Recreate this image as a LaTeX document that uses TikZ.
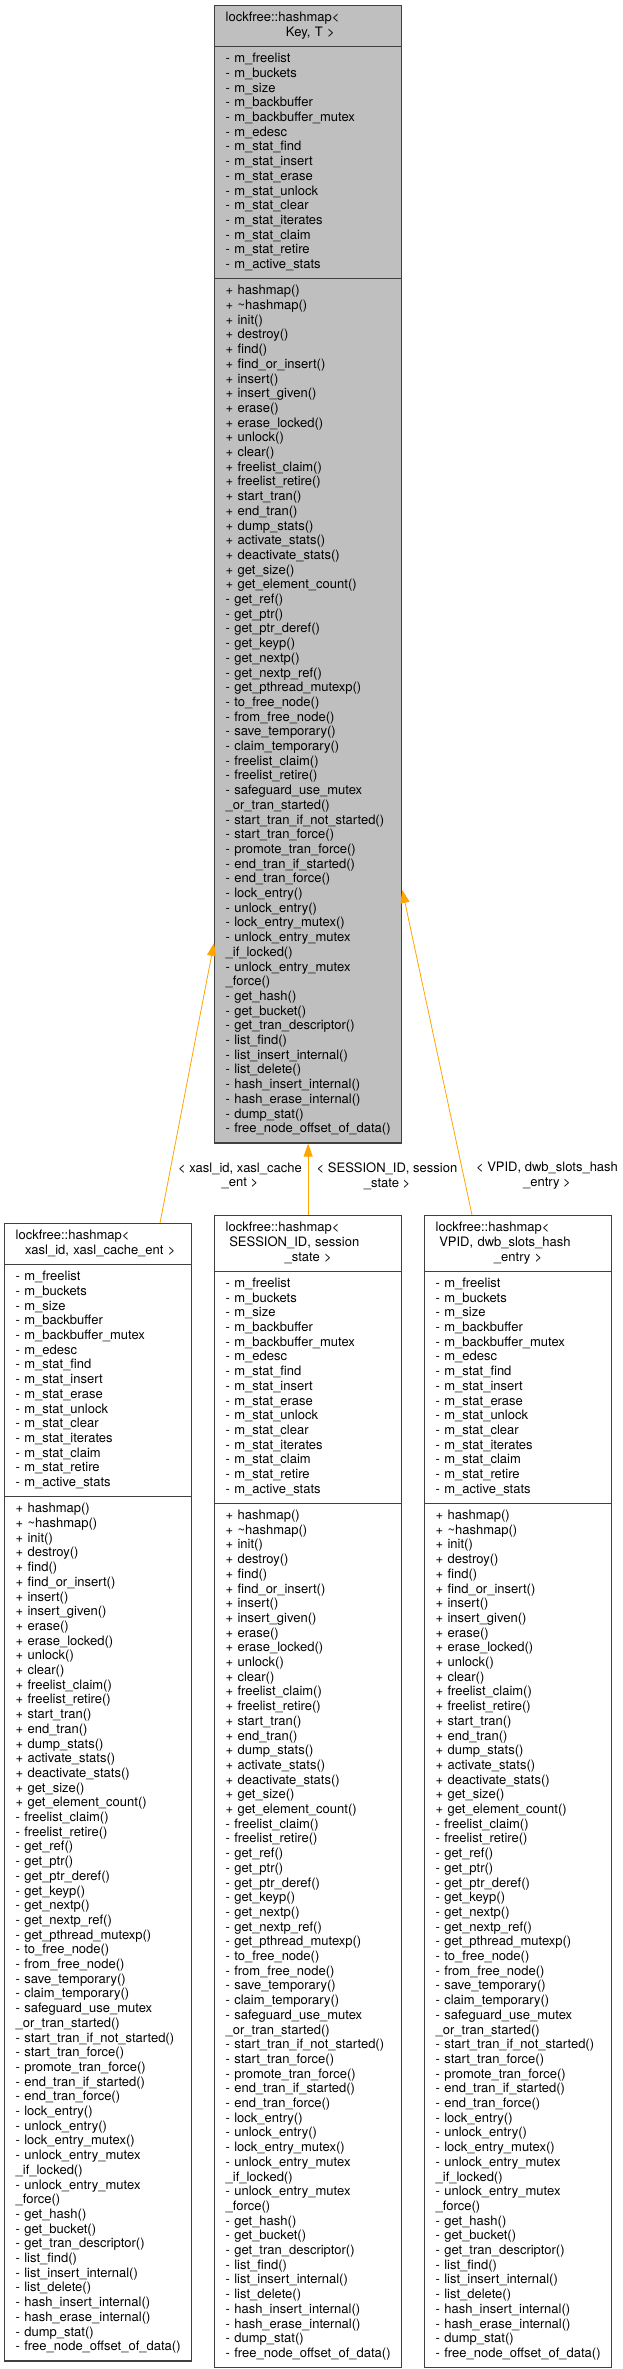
\documentclass[tikz,border=0pt]{standalone}
\usepackage{fontspec}
\setmainfont{TeX Gyre Heros}
\usetikzlibrary{shapes.multipart,arrows.meta}

\definecolor{hmgrey}{RGB}{191,191,191}
\definecolor{hmframe}{RGB}{64,64,64}
\definecolor{hmorange}{RGB}{255,165,0}

\newcommand\hmfont{\fontsize{13}{14.7}\selectfont}

% member lists shared by all four classes
\newcommand\hmattrs{\strut-~m\_freelist\\-~m\_buckets\\-~m\_size\\-~m\_backbuffer\\-~m\_backbuffer\_mutex\\-~m\_edesc\\-~m\_stat\_find\\-~m\_stat\_insert\\-~m\_stat\_erase\\-~m\_stat\_unlock\\-~m\_stat\_clear\\-~m\_stat\_iterates\\-~m\_stat\_claim\\-~m\_stat\_retire\\-~m\_active\_stats\strut}
\newcommand\hmpublic{+~hashmap()\\+~\textasciitilde hashmap()\\+~init()\\+~destroy()\\+~find()\\+~find\_or\_insert()\\+~insert()\\+~insert\_given()\\+~erase()\\+~erase\_locked()\\+~unlock()\\+~clear()\\+~freelist\_claim()\\+~freelist\_retire()\\+~start\_tran()\\+~end\_tran()\\+~dump\_stats()\\+~activate\_stats()\\+~deactivate\_stats()\\+~get\_size()\\+~get\_element\_count()}
\newcommand\hmfree{-~freelist\_claim()\\-~freelist\_retire()}
\newcommand\hmaccess{-~get\_ref()\\-~get\_ptr()\\-~get\_ptr\_deref()\\-~get\_keyp()\\-~get\_nextp()\\-~get\_nextp\_ref()\\-~get\_pthread\_mutexp()\\-~to\_free\_node()\\-~from\_free\_node()\\-~save\_temporary()\\-~claim\_temporary()}
\newcommand\hmtail{-~safeguard\_use\_mutex\\\_or\_tran\_started()\\-~start\_tran\_if\_not\_started()\\-~start\_tran\_force()\\-~promote\_tran\_force()\\-~end\_tran\_if\_started()\\-~end\_tran\_force()\\-~lock\_entry()\\-~unlock\_entry()\\-~lock\_entry\_mutex()\\-~unlock\_entry\_mutex\\\_if\_locked()\\-~unlock\_entry\_mutex\\\_force()\\-~get\_hash()\\-~get\_bucket()\\-~get\_tran\_descriptor()\\-~list\_find()\\-~list\_insert\_internal()\\-~list\_delete()\\-~hash\_insert\_internal()\\-~hash\_erase\_internal()\\-~dump\_stat()\\-~free\_node\_offset\_of\_data()}

\tikzset{
  hmclass/.style={rectangle split, rectangle split parts=3, draw=hmframe,
    line width=1.3pt, fill=white, text width=165pt, inner xsep=11pt,
    inner ysep=5.15pt, align=left, font=\hmfont, anchor=north west},
  hmedge/.style={draw=hmorange, line width=0.8pt, {Triangle[length=13pt,width=9pt]}-},
  hmlabel/.style={align=center, font=\hmfont, inner sep=0pt}
}

\begin{document}
\begin{tikzpicture}[x=1pt, y=-1pt]
  \useasboundingbox (0,0) rectangle (622,2369);

  % Class template
  \node[hmclass, fill=hmgrey] (base) at (214,5)
    {\strut lockfree::hashmap<\\\makebox[\linewidth]{\ Key, T >\strut}
     \nodepart{two}\hmattrs
     \nodepart{three}\strut\hmpublic\\\hmaccess\\\hmfree\\\hmtail\strut};

  % Instances
  \node[hmclass] (xasl) at (4,1223)
    {\strut lockfree::hashmap<\\\makebox[\linewidth]{\ xasl\_id, xasl\_cache\_ent >\strut}
     \nodepart{two}\hmattrs
     \nodepart{three}\strut\hmpublic\\\hmfree\\\hmaccess\\\hmtail\strut};
  \node[hmclass] (session) at (214,1215)
    {\strut lockfree::hashmap<\\\hspace*{3.6pt}SESSION\_ID, session\\\makebox[\linewidth]{\_state >\strut}
     \nodepart{two}\hmattrs
     \nodepart{three}\strut\hmpublic\\\hmfree\\\hmaccess\\\hmtail\strut};
  \node[hmclass] (vpid) at (424,1215)
    {\strut lockfree::hashmap<\\\hspace*{3.6pt}VPID, dwb\_slots\_hash\\\makebox[\linewidth]{\_entry >\strut}
     \nodepart{two}\hmattrs
     \nodepart{three}\strut\hmpublic\\\hmfree\\\hmaccess\\\hmtail\strut};

  % Template arguments
  \draw[hmedge] (base.west |- 0,943) -- (xasl.north -| 160,0);
  \draw[hmedge] (base.south) -- (session.north);
  \draw[hmedge] (base.east |- 0,890) -- (vpid.north -| 472,0);
  \node[hmlabel] (lblxasl) at (240,1176) {< xasl\_id, xasl\_cache\\\_ent >};
  \node[hmlabel] (lblsession) at (387,1176) {< SESSION\_ID, session\\\_state >};
  \node[hmlabel] (lblvpid) at (547,1176) {< VPID, dwb\_slots\_hash\\\_entry >};
\end{tikzpicture}
\end{document}
